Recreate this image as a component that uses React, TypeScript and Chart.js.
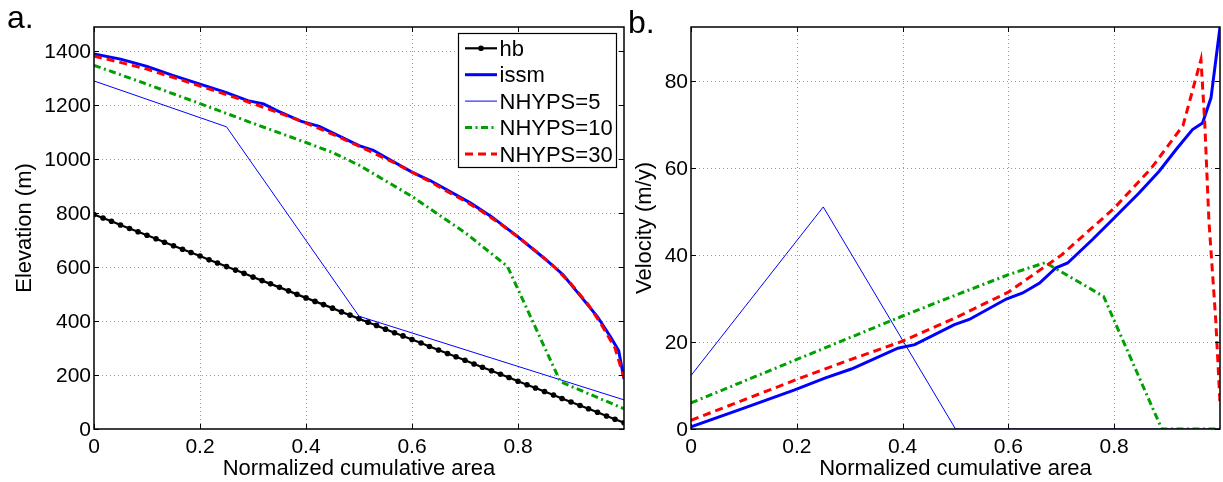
import React, { useEffect, useRef } from "react";
import { Chart, registerables } from "chart.js";

Chart.register(...registerables);

const FONT = "'Liberation Sans', Arial, Helvetica, sans-serif";

// ---------- Panel a: Elevation ----------
const hbX = [0, 0.017, 0.033, 0.05, 0.067, 0.083, 0.1, 0.117, 0.133, 0.15, 0.167, 0.183, 0.2, 0.217, 0.233, 0.25, 0.267, 0.283, 0.3, 0.317, 0.333, 0.35, 0.367, 0.383, 0.4, 0.417, 0.433, 0.45, 0.467, 0.483, 0.5, 0.517, 0.533, 0.55, 0.567, 0.583, 0.6, 0.617, 0.633, 0.65, 0.667, 0.683, 0.7, 0.717, 0.733, 0.75, 0.767, 0.783, 0.8, 0.817, 0.833, 0.85, 0.867, 0.883, 0.9, 0.917, 0.933, 0.95, 0.967, 0.983, 1.0];
const hbElev = [795, 782, 770, 756, 743, 731, 718, 705, 692, 679, 666, 654, 641, 627, 615, 602, 589, 577, 563, 550, 538, 525, 512, 499, 486, 473, 461, 448, 434, 422, 409, 396, 384, 370, 357, 345, 332, 319, 306, 293, 280, 268, 255, 241, 229, 216, 203, 191, 177, 164, 152, 139, 126, 113, 100, 87, 75, 62, 48, 36, 23];

const issmElevX = [0, 0.05, 0.1, 0.15, 0.2, 0.25, 0.29, 0.32, 0.345, 0.39, 0.425, 0.46, 0.5, 0.527, 0.56, 0.6, 0.635, 0.67, 0.71, 0.75, 0.8, 0.85, 0.885, 0.92, 0.95, 0.975, 0.99, 1.0];
const issmElev = [1390, 1371, 1344, 1310, 1278, 1247, 1217, 1205, 1180, 1141, 1122, 1088, 1050, 1033, 996, 952, 920, 882, 838, 787, 712, 632, 572, 488, 416, 340, 290, 185];

const n5ElevX = [0, 0.25, 0.5, 0.75, 1.0];
const n5Elev = [1290, 1120, 418, 263, 108];

const n10ElevX = [0, 0.1, 0.2, 0.3, 0.4, 0.45, 0.5, 0.6, 0.7, 0.78, 0.88, 1.0];
const n10Elev = [1348, 1278, 1206, 1133, 1062, 1025, 978, 862, 728, 603, 175, 75];

const n30ElevX = [0, 0.033, 0.067, 0.1, 0.133, 0.167, 0.2, 0.233, 0.267, 0.3, 0.333, 0.367, 0.4, 0.433, 0.467, 0.5, 0.533, 0.567, 0.6, 0.633, 0.667, 0.7, 0.733, 0.767, 0.8, 0.833, 0.867, 0.9, 0.933, 0.958, 0.983, 1.0];
const n30Elev = [1382, 1367, 1350, 1334, 1313, 1292, 1271, 1250, 1228, 1206, 1183, 1159, 1134, 1107, 1078, 1048, 1018, 986, 952, 918, 880, 845, 805, 760, 712, 660, 604, 538, 460, 385, 300, 190];

// ---------- Panel b: Velocity ----------
const issmVelX = [0, 0.1, 0.196, 0.253, 0.303, 0.322, 0.391, 0.423, 0.498, 0.526, 0.596, 0.627, 0.659, 0.69, 0.712, 0.759, 0.797, 0.847, 0.885, 0.917, 0.948, 0.967, 0.983, 1.0];
const issmVel = [0.5, 4.8, 9.0, 11.7, 13.8, 14.8, 18.6, 19.4, 24.0, 25.2, 29.9, 31.3, 33.6, 37.1, 38.2, 43.6, 48.2, 54.3, 59.3, 64.3, 68.9, 70.4, 76.2, 92.5];

const n5VelX = [0, 0.25, 0.5, 0.75, 1.0];
const n5Vel = [12.3, 51.1, 0, 0, 0];

const n10VelX = [0, 0.1, 0.2, 0.3, 0.4, 0.5, 0.6, 0.67, 0.78, 0.89, 1.0];
const n10Vel = [6.0, 11.0, 16.0, 21.0, 26.0, 30.8, 35.5, 38.3, 30.5, 0, 0];

const n30VelX = [0, 0.1, 0.2, 0.3, 0.4, 0.5, 0.6, 0.7, 0.8, 0.87, 0.93, 0.964, 0.971, 0.979, 0.992, 1.0];
const n30Vel = [2.0, 6.7, 11.4, 15.9, 20.2, 25.6, 31.5, 40.0, 50.8, 60.0, 69.8, 85.0, 71.0, 48.0, 25.0, 6.0];

// ---------- Axes / labels ----------
const xTitle = "Normalized cumulative area";
const elevTitle = "Elevation (m)";
const velTitle = "Velocity (m/y)";
const xTickStep = 0.2;
const elevMax = 1490;
const elevStep = 200;
const velMax = 92.5;
const velStep = 20;
const seriesLabels = ["hb", "issm", "NHYPS=5", "NHYPS=10", "NHYPS=30"];

const BLUE = "#0000ff";
const GREEN = "#00a000";
const RED = "#ff0000";

const pts = (xs: number[], ys: number[]) => xs.map((x, i) => ({ x, y: ys[i] }));

const framePlugin = {
  id: "matlabFrame",
  beforeDatasetsDraw(chart: any) {
    const { ctx, chartArea: a, scales } = chart;
    ctx.save();
    ctx.strokeStyle = "#9a9a9a";
    ctx.lineWidth = 1;
    ctx.setLineDash([1, 3]);
    scales.x.ticks.forEach((t: any) => {
      const px = Math.round(scales.x.getPixelForValue(t.value)) + 0.5;
      if (px <= a.left + 2 || px >= a.right - 2) return;
      ctx.beginPath();
      ctx.moveTo(px, a.top);
      ctx.lineTo(px, a.bottom);
      ctx.stroke();
    });
    scales.y.ticks.forEach((t: any) => {
      const py = Math.round(scales.y.getPixelForValue(t.value)) + 0.5;
      if (py <= a.top + 2 || py >= a.bottom - 2) return;
      ctx.beginPath();
      ctx.moveTo(a.left, py);
      ctx.lineTo(a.right, py);
      ctx.stroke();
    });
    ctx.restore();
  },
  afterDatasetsDraw(chart: any) {
    const { ctx, chartArea: a, scales } = chart;
    const tl = 5;
    ctx.save();
    ctx.setLineDash([]);
    ctx.strokeStyle = "#000";
    ctx.lineWidth = 1;
    scales.x.ticks.forEach((t: any) => {
      const px = Math.round(scales.x.getPixelForValue(t.value)) + 0.5;
      ctx.beginPath();
      ctx.moveTo(px, a.bottom);
      ctx.lineTo(px, a.bottom - tl);
      ctx.moveTo(px, a.top);
      ctx.lineTo(px, a.top + tl);
      ctx.stroke();
    });
    scales.y.ticks.forEach((t: any) => {
      const py = Math.round(scales.y.getPixelForValue(t.value)) + 0.5;
      ctx.beginPath();
      ctx.moveTo(a.left, py);
      ctx.lineTo(a.left + tl, py);
      ctx.moveTo(a.right, py);
      ctx.lineTo(a.right - tl, py);
      ctx.stroke();
    });
    ctx.lineWidth = 1.5;
    ctx.strokeRect(a.left, a.top, a.right - a.left, a.bottom - a.top);
    ctx.restore();
  },
};

const legendPlugin = {
  id: "boxLegend",
  afterDraw(chart: any) {
    const ctx = chart.ctx;
    const box = { x: 458.5, y: 33.5, w: 158, h: 134 };
    const sx0 = 465;
    const sx1 = 497;
    const tx = 499.5;
    const base0 = 56;
    const gap = 26.4;
    const mid = 7.7;
    ctx.save();
    ctx.setLineDash([]);
    ctx.fillStyle = "#fff";
    ctx.fillRect(box.x, box.y, box.w, box.h);
    ctx.strokeStyle = "#000";
    ctx.lineWidth = 1.2;
    ctx.strokeRect(box.x, box.y, box.w, box.h);
    chart.data.datasets.forEach((ds: any, i: number) => {
      const base = base0 + i * gap;
      const ly = base - mid;
      ctx.strokeStyle = ds.borderColor;
      ctx.lineWidth = ds.borderWidth;
      ctx.setLineDash(ds.borderDash || []);
      ctx.beginPath();
      ctx.moveTo(sx0, ly);
      ctx.lineTo(sx1, ly);
      ctx.stroke();
      ctx.setLineDash([]);
      if (ds.pointRadius > 0) {
        ctx.fillStyle = ds.pointBackgroundColor;
        ctx.beginPath();
        ctx.arc((sx0 + sx1) / 2, ly, ds.pointRadius, 0, Math.PI * 2);
        ctx.fill();
      }
      ctx.fillStyle = "#000";
      ctx.font = `22px ${FONT}`;
      ctx.textBaseline = "alphabetic";
      ctx.textAlign = "left";
      ctx.fillText(ds.label, tx, base);
    });
    ctx.restore();
  },
};

function makeScales(yMax: number, yStep: number, yTitle: string, yWidth: number, yTitlePad: number) {
  return {
    x: {
      type: "linear",
      min: 0,
      max: 1,
      afterFit: (s: any) => {
        s.height = 53;
      },
      afterBuildTicks: (s: any) => {
        s.ticks = s.ticks.filter((t: any) => t.value < 0.999);
      },
      ticks: {
        stepSize: xTickStep,
        includeBounds: false,
        autoSkip: false,
        maxRotation: 0,
        padding: 6,
        color: "#000",
        font: { family: FONT, size: 21 },
        callback: (v: any) => String(Math.round(Number(v) * 10) / 10),
      },
      grid: { display: false, drawTicks: false },
      border: { display: false },
      title: {
        display: true,
        text: xTitle,
        color: "#000",
        font: { family: FONT, size: 22 },
        padding: { top: 0, bottom: 0 },
      },
    },
    y: {
      type: "linear",
      min: 0,
      max: yMax,
      afterFit: (s: any) => {
        s.width = yWidth;
      },
      ticks: {
        stepSize: yStep,
        includeBounds: false,
        autoSkip: false,
        padding: 3,
        labelOffset: 1,
        color: "#000",
        font: { family: FONT, size: 21 },
        callback: (v: any) => String(Math.round(Number(v))),
      },
      grid: { display: false, drawTicks: false },
      border: { display: false },
      title: {
        display: true,
        text: yTitle,
        color: "#000",
        font: { family: FONT, size: 22 },
        padding: { top: yTitlePad, bottom: 0 },
      },
    },
  };
}

const baseOptions = (padding: any) => ({
  responsive: false,
  animation: false,
  events: [],
  layout: { padding },
  elements: { line: { tension: 0 } },
  plugins: { legend: { display: false }, tooltip: { enabled: false }, title: { display: false } },
});

function elevationConfig(): any {
  return {
    type: "line",
    data: {
      datasets: [
        { label: seriesLabels[0], data: pts(hbX, hbElev), borderColor: "#000", borderWidth: 2.2, pointRadius: 2.8, pointBackgroundColor: "#000", pointBorderWidth: 0, order: 5 },
        { label: seriesLabels[1], data: pts(issmElevX, issmElev), borderColor: BLUE, borderWidth: 3, pointRadius: 0, order: 4 },
        { label: seriesLabels[2], data: pts(n5ElevX, n5Elev), borderColor: BLUE, borderWidth: 1, pointRadius: 0, order: 3 },
        { label: seriesLabels[3], data: pts(n10ElevX, n10Elev), borderColor: GREEN, borderWidth: 3, borderDash: [7, 3.5, 2, 3.5], pointRadius: 0, order: 2 },
        { label: seriesLabels[4], data: pts(n30ElevX, n30Elev), borderColor: RED, borderWidth: 3, borderDash: [8, 5], pointRadius: 0, order: 1 },
      ],
    },
    options: {
      ...baseOptions({ left: 0, right: 3, top: 27, bottom: 0 }),
      scales: makeScales(elevMax, elevStep, elevTitle, 94, 12),
    },
    plugins: [framePlugin, legendPlugin],
  };
}

function velocityConfig(): any {
  return {
    type: "line",
    data: {
      datasets: [
        { label: seriesLabels[1], data: pts(issmVelX, issmVel), borderColor: BLUE, borderWidth: 3, pointRadius: 0, order: 4 },
        { label: seriesLabels[2], data: pts(n5VelX, n5Vel), borderColor: BLUE, borderWidth: 1, pointRadius: 0, order: 3 },
        { label: seriesLabels[3], data: pts(n10VelX, n10Vel), borderColor: GREEN, borderWidth: 3, borderDash: [7, 3.5, 2, 3.5], pointRadius: 0, order: 2 },
        { label: seriesLabels[4], data: pts(n30VelX, n30Vel), borderColor: RED, borderWidth: 3, borderDash: [8, 5], pointRadius: 0, order: 1 },
      ],
    },
    options: {
      ...baseOptions({ left: 0, right: 3, top: 27, bottom: 0 }),
      scales: makeScales(velMax, velStep, velTitle, 65, 6),
    },
    plugins: [framePlugin],
  };
}

export default function App() {
  const refA = useRef<HTMLCanvasElement>(null);
  const refB = useRef<HTMLCanvasElement>(null);

  useEffect(() => {
    const a = new Chart(refA.current as HTMLCanvasElement, elevationConfig());
    const b = new Chart(refB.current as HTMLCanvasElement, velocityConfig());
    return () => {
      a.destroy();
      b.destroy();
    };
  }, []);

  const panelLabel: React.CSSProperties = {
    position: "absolute",
    font: `32px ${FONT}`,
    lineHeight: "32px",
    color: "#000",
    whiteSpace: "nowrap",
  };

  return (
    <div style={{ position: "absolute", left: 0, top: 0, width: 1223, height: 482, background: "#fff", overflow: "hidden" }}>
      <canvas ref={refA} width={628} height={482} style={{ position: "absolute", left: 0, top: 0, width: 628, height: 482 }} />
      <canvas ref={refB} width={597} height={482} style={{ position: "absolute", left: 626, top: 0, width: 597, height: 482 }} />
      <div style={{ ...panelLabel, left: 7, top: 1 }}>a.</div>
      <div style={{ ...panelLabel, left: 628, top: 6 }}>b.</div>
    </div>
  );
}
